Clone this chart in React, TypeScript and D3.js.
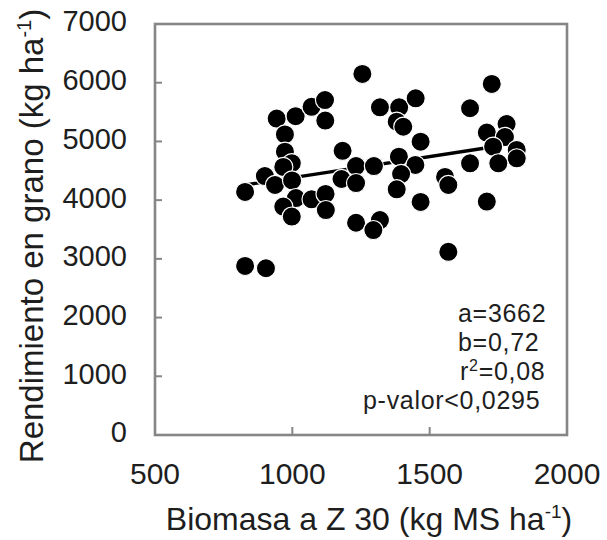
import React from "react";
import * as d3 from "d3";

const biomasa = [
  1255, 943, 1012, 1070, 1119, 1120, 973, 1319, 1389, 1449, 1380, 1404, 1467, 1183,
  973, 998, 967, 900, 828, 937, 999, 1232, 1297, 1388, 1448, 1179, 1232, 1396, 1380,
  1467, 1013, 1070, 1121, 1122, 967, 998, 1232, 1319, 1295, 828, 904, 1726, 1647,
  1780, 1708, 1774, 1817, 1817, 1731, 1647, 1750, 1556, 1568, 1708, 1568,
];
const rendimiento = [
  6150, 5390, 5430, 5590, 5705, 5355, 5120, 5580, 5580, 5735, 5336, 5250, 4995, 4840,
  4825, 4630, 4565, 4410, 4140, 4258, 4335, 4580, 4580, 4740, 4600, 4360, 4290, 4445,
  4185, 3970, 4035, 4015, 4105, 3830, 3890, 3720, 3615, 3660, 3490, 2880, 2840, 5980,
  5565, 5295, 5150, 5075, 4855, 4712, 4910, 4627, 4627, 4395, 4258, 3975, 3120,
];
const xTicks = [500, 1000, 1500, 2000];
const yTicks = [0, 1000, 2000, 3000, 4000, 5000, 6000, 7000];
const regA = 3662;
const regB = 0.72;
const regRange = [835, 1745];
const statsLines = ["a=3662", "b=0,72", "r2=0,08", "p-valor<0,0295"];

const W = 607;
const H = 540;
const left = 155, right = 567, top = 24, bottom = 435;
const FONT = "'Liberation Sans', Arial, sans-serif";

export default function App() {
  const x = d3.scaleLinear().domain([500, 2000]).range([left, right]);
  const y = d3.scaleLinear().domain([0, 7000]).range([bottom, top]);
  const line = d3
    .line<number>()
    .x((d) => x(d))
    .y((d) => y(regA + regB * d));
  const axisColor = "#868686";
  const txt = "#1e1e1e";
  return (
    <svg
      width={W}
      height={H}
      style={{ position: "absolute", left: 0, top: 0, background: "#fff" }}
      fontFamily={FONT}
    >
      <rect x={0} y={0} width={W} height={H} fill="#fff" />
      {yTicks.slice(1, -1).map((t) => (
        <line key={"yt" + t} x1={left} x2={left + 7} y1={y(t)} y2={y(t)} stroke={axisColor} strokeWidth={2} />
      ))}
      {xTicks.slice(1, -1).map((t) => (
        <line key={"xt" + t} x1={x(t)} x2={x(t)} y1={bottom} y2={bottom - 8} stroke={axisColor} strokeWidth={2} />
      ))}
      <path d={line(regRange) || ""} stroke="#000" strokeWidth={3.4} fill="none" />
      {biomasa.map((b, i) => (
        <circle key={i} cx={x(b)} cy={y(rendimiento[i])} r={9.6} fill="#000" stroke="#fff" strokeWidth={1.2} />
      ))}
      <rect x={left} y={top} width={right - left} height={bottom - top} fill="none" stroke={axisColor} strokeWidth={2.6} />
      {yTicks.map((t) => (
        <text key={"yl" + t} x={127} y={y(t) - 3} dy="0.36em" textAnchor="end" fontSize={29} fill={txt}>
          {t}
        </text>
      ))}
      {xTicks.map((t) => (
        <text key={"xl" + t} x={x(t)} y={484} textAnchor="middle" fontSize={30} fill={txt}>
          {t}
        </text>
      ))}
      <text x={369} y={530} textAnchor="middle" fontSize={32} fill={txt}>
        Biomasa a Z 30 (kg MS ha<tspan dy={-12} fontSize={19}>-1</tspan>
        <tspan dy={12}>)</tspan>
      </text>
      <text transform="translate(43,236) rotate(-90)" textAnchor="middle" fontSize={33} fill={txt}>
        Rendimiento en grano (kg ha<tspan dy={-12} fontSize={20}>-1</tspan>
        <tspan dy={12}>)</tspan>
      </text>
      <g fontSize={25} letterSpacing={0.7} fill={txt}>
        <text x={458} y={322}>{statsLines[0]}</text>
        <text x={458} y={351}>{statsLines[1]}</text>
        <text x={460} y={380}>
          r<tspan dy={-9} fontSize={16}>2</tspan>
          <tspan dy={9}>{statsLines[2].slice(2)}</tspan>
        </text>
        <text x={363} y={409}>{statsLines[3]}</text>
      </g>
    </svg>
  );
}
